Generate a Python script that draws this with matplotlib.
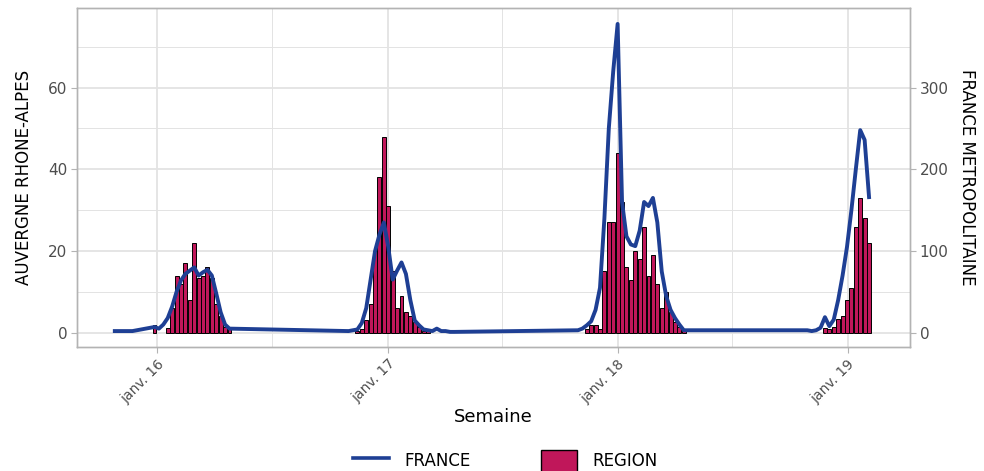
import numpy as np
import pandas as pd
import matplotlib
matplotlib.use('Agg')
import matplotlib.pyplot as plt
import matplotlib.dates as mdates
from matplotlib.ticker import FixedLocator, MultipleLocator
from matplotlib.lines import Line2D
from matplotlib.patches import Patch

# weekly surveillance data (weeks starting on monday), one block per season
season_starts = ['2015-10-26', '2016-10-31', '2017-10-30', '2018-10-29']

france_s1 = [2, 2, 2, 2, 2, 3, 4, 5, 6, 7, 5, 10, 18, 32, 50, 64, 72, 76, 80, 70,
             74, 77, 70, 48, 25, 10, 5]
region_s1 = [0, 0, 0, 0, 0, 0, 0, 0, 0, 1.8, 0, 0, 1.2, 6, 14, 12, 17, 8, 22, 13.5,
             14, 16, 13.5, 7, 4, 1.5, 1]

france_s2 = [2, 3, 4, 12, 30, 65, 100, 120, 135, 105, 65, 76, 86, 72, 40, 15, 9, 4,
             3, 2, 5, 2, 2, 1, 1]
region_s2 = [0, 0, 0.5, 1, 3, 7, 20, 38, 48, 31, 15, 6, 9, 5, 4, 2.5, 1.5, 0.5,
             1, 0, 0, 0, 0, 0, 0]

france_s3 = [3, 5, 9, 14, 28, 55, 140, 250, 320, 378, 160, 118, 108, 106, 125, 160,
             155, 165, 135, 75, 45, 28, 18, 10, 3, 3]
region_s3 = [0, 0, 1, 2, 2, 1, 15, 27, 27, 44, 32, 16, 13, 20, 18, 26,
             14, 19, 12, 6, 10, 5, 2.5, 1.5, 0.5, 0]

france_s4 = [3, 2, 3, 6, 19, 8, 16, 40, 70, 105, 150, 200, 248, 236, 166]
region_s4 = [0, 0, 0, 0, 1.1, 1, 1.5, 3.4, 4, 8, 11, 26, 33, 28, 22]

x_ticks = ['2016-01-01', '2017-01-01', '2018-01-01', '2019-01-01']
x_ticklabels = ['janv. 16', 'janv. 17', 'janv. 18', 'janv. 19']
x_minor = ['2016-07-02', '2017-07-02', '2018-07-02']
left_ticks = [0, 20, 40, 60]
right_ticks = [0, 100, 200, 300]

blue = '#1E3F94'
crimson = '#C0175A'
grid_col = '#E3E3E3'
border_col = '#B3B3B3'
text_col = '#4D4D4D'

frames = []
for start, fr, rg in zip(season_starts,
                         [france_s1, france_s2, france_s3, france_s4],
                         [region_s1, region_s2, region_s3, region_s4]):
    weeks = pd.date_range(start, periods=len(fr), freq='7D')
    frames.append(pd.DataFrame({'semaine': weeks, 'france': fr, 'region': rg}))
df = pd.concat(frames, ignore_index=True)

fig = plt.figure(figsize=(9.84, 4.71), dpi=100)
ax = fig.add_axes([77 / 984, 1 - 347 / 471, 833 / 984, 339 / 471])
ax2 = ax.twinx()

# bars for the region (left axis)
bars = df[df['region'] > 0]
ax.bar(bars['semaine'], bars['region'], width=6.3, color=crimson,
       edgecolor='black', linewidth=0.7, zorder=3)

# line for France (right axis)
ax2.plot(df['semaine'], df['france'], color=blue, linewidth=2.8,
         solid_joinstyle='round')

ax.set_xlim(pd.Timestamp('2015-08-27'), pd.Timestamp('2019-04-10'))
ax.set_ylim(-3.5, 79.5)
ax2.set_ylim(-17.5, 397.5)

ax.set_xticks(pd.to_datetime(x_ticks))
ax.set_xticklabels(x_ticklabels, rotation=45, ha='right', rotation_mode='anchor')
ax.xaxis.set_minor_locator(FixedLocator(mdates.date2num(pd.to_datetime(x_minor))))
ax.set_yticks(left_ticks)
ax.yaxis.set_minor_locator(MultipleLocator(10))
ax2.set_yticks(right_ticks)

ax.set_axisbelow(True)
ax.grid(which='major', color=grid_col, linewidth=1.3)
ax.grid(which='minor', color=grid_col, linewidth=0.7)

for a in (ax, ax2):
    a.tick_params(which='major', length=4, width=0.8, color=border_col,
                  labelcolor=text_col, labelsize=11, pad=3)
    a.tick_params(which='minor', length=0)
    for sp in a.spines.values():
        sp.set_color(border_col)
        sp.set_linewidth(1.0)
ax.tick_params(axis='x', labelsize=10)

ax.set_xlabel('Semaine', fontsize=13, labelpad=2)
ax.set_ylabel('AUVERGNE RHONE-ALPES', fontsize=12)
ax.yaxis.set_label_coords(-0.053, 0.5)
ax2.set_ylabel('FRANCE METROPOLITAINE', fontsize=12, rotation=270, va='bottom')
ax2.yaxis.set_label_coords(1.058, 0.5)

handles = [Line2D([0], [0], color=blue, linewidth=2.6),
           Patch(facecolor=crimson, edgecolor='black', linewidth=1.0)]
fig.legend(handles, ['FRANCE', 'REGION'], loc='center', ncol=2,
           bbox_to_anchor=(505 / 984, 1 - 461 / 471), frameon=False,
           fontsize=12, handlelength=2.2, handleheight=1.6,
           handletextpad=0.9, columnspacing=4.2)

fig.savefig('out.png', dpi=100)
